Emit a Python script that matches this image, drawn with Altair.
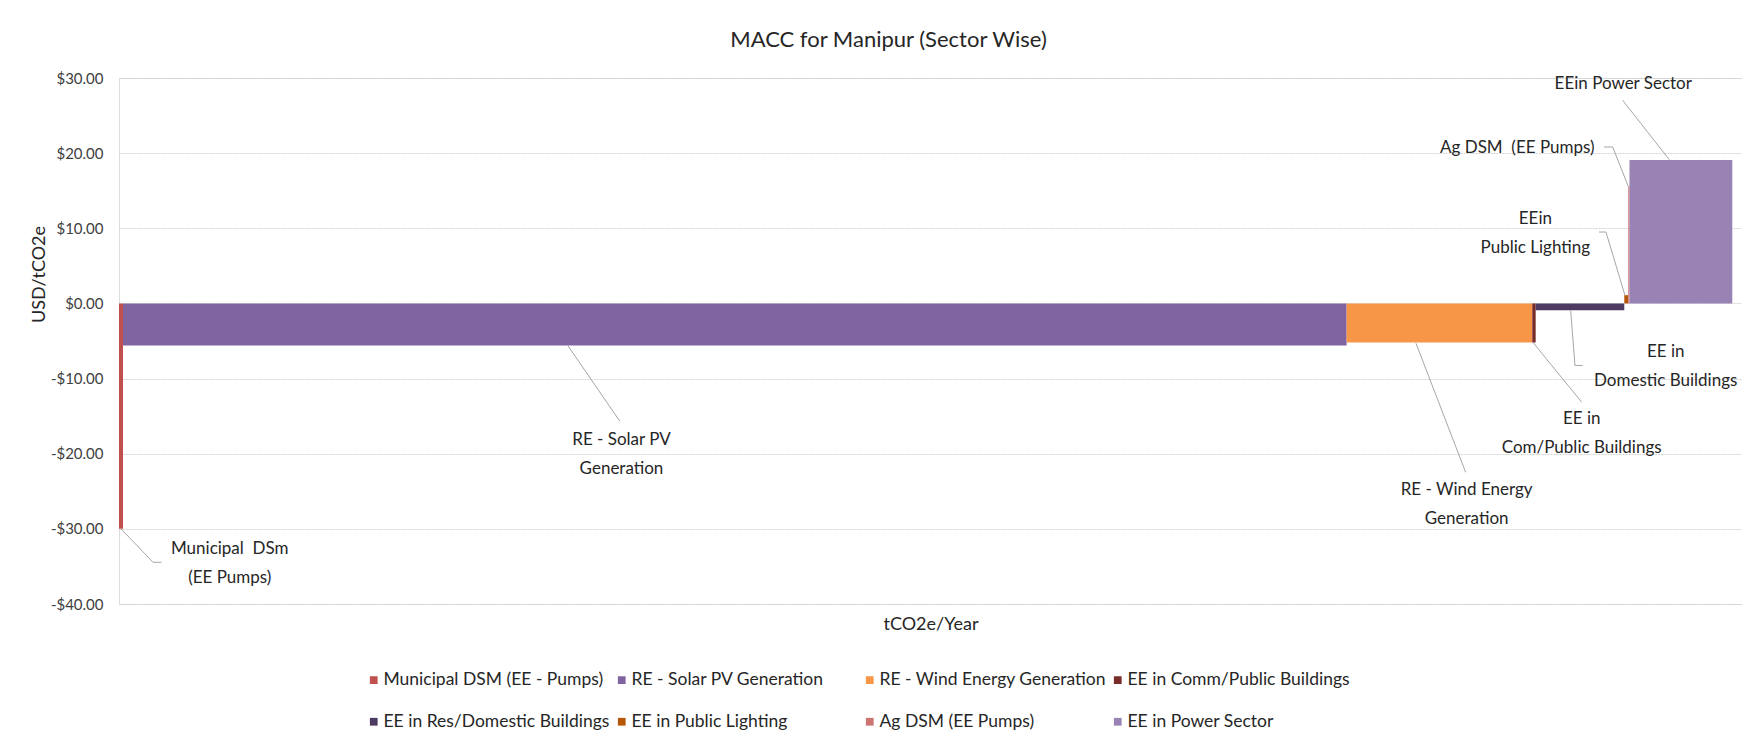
import altair as alt
import pandas as pd

# ---- data ----
series = [
    "Municipal DSM (EE - Pumps)",
    "RE - Solar PV Generation",
    "RE - Wind Energy Generation",
    "EE in Comm/Public Buildings",
    "EE in Res/Domestic Buildings",
    "EE in Public Lighting",
    "Ag DSM (EE Pumps)",
    "EE in Power Sector",
]
abatement = [400, 122340, 18560, 340, 8860, 400, 120, 10280]   # tCO2e/Year (width)
cost = [-30.0, -5.6, -5.2, -5.2, -0.9, 1.1, 15.6, 19.1]        # USD/tCO2e (height)
colors = ["#C0504D", "#8064A2", "#F79646", "#772C2A",
          "#4D3B62", "#B65708", "#CD7371", "#9983B5"]

callout_text = [
    "Municipal \u00a0DSm\n(EE Pumps)",
    "RE - Solar PV\nGeneration",
    "RE - Wind Energy\nGeneration",
    "EE in\nCom/Public Buildings",
    "EE in\nDomestic Buildings",
    "EEin\nPublic Lighting",
    "Ag DSM \u00a0(EE Pumps)",
    "EEin Power Sector",
]
callout_x = [11070, 50240, 134740, 146240, 154640, 141610, 139800, 150400]
callout_y = [-32.67, -18.15, -24.77, -15.36, -6.49, 11.28, 20.68, 29.26]
leader_x = [[200, 3400, 4240], [44900, 50070], [129670, 134640], [141400, 146240],
            [145140, 145570, 146340], [150570, 148670, 147970],
            [150900, 149340, 148470], [155000, 150340]]
leader_y = [[-30.0, -34.45, -34.45], [-5.66, -15.67], [-5.29, -22.47], [-5.23, -13.14],
            [-0.93, -8.26, -8.26], [1.07, 9.5, 9.5], [15.58, 20.82, 20.82], [19.14, 27.03]]

x_max = 162270
y_ticks = [-40, -30, -20, -10, 0, 10, 20, 30]

# ---- tables ----
starts, ends, acc = [], [], 0
for w in abatement:
    starts.append(acc)
    acc += w
    ends.append(acc)
bars = pd.DataFrame({"series": series, "start": starts, "end": ends,
                     "cost": cost, "zero": [0] * len(series)})

labels = pd.DataFrame({"text": callout_text, "x": callout_x, "y": callout_y})

rows = []
for i, (xs, ys) in enumerate(zip(leader_x, leader_y)):
    for j, (a, b) in enumerate(zip(xs, ys)):
        rows.append({"id": i, "seq": j, "x": a, "y": b})
leaders = pd.DataFrame(rows)

FONT = "Lato"
TXT = "#404040"

xscale = alt.Scale(domain=[0, x_max], nice=False, zero=False)
yscale = alt.Scale(domain=[-40, 30], nice=False)

bar_layer = alt.Chart(bars).mark_rect().encode(
    x=alt.X("start:Q", scale=xscale,
            axis=alt.Axis(title="tCO2e/Year", labels=False, ticks=False, domain=False,
                          grid=False, titleFontSize=18, titleFontWeight="normal",
                          titleColor="#262626", titleFont=FONT, titleY=20,
                          titleBaseline="middle")),
    x2="end:Q",
    y=alt.Y("cost:Q", scale=yscale,
            axis=alt.Axis(title="USD/tCO2e", values=y_ticks,
                          labelExpr="(datum.value < 0 ? '-' : '') + '$' + format(abs(datum.value), '.2f')",
                          labelFontSize=15, labelColor=TXT, labelFont=FONT, labelPadding=16,
                          ticks=False, domain=False, grid=True, gridColor="#D4D4D4",
                          gridDash=[2, 1], titleFontSize=18, titleFontWeight="normal",
                          titleColor="#262626", titleFont=FONT, titleX=-80, titleY=196,
                          titleBaseline="middle", titleAlign="center")),
    y2="zero:Q",
    color=alt.Color("series:N", scale=alt.Scale(domain=series, range=colors),
                    legend=alt.Legend(title=None, orient="none", legendX=246, legendY=593,
                                      direction="horizontal",
                                      columns=4, gridAlign="all", columnPadding=2,
                                      rowPadding=23, symbolType="square", symbolSize=60,
                                      symbolStrokeWidth=0, labelFontSize=17.5, labelFont=FONT,
                                      labelColor="#262626", labelLimit=400, padding=0,
                                      labelOffset=1)),
)

leader_layer = alt.Chart(leaders).mark_line(color="#A6A6A6", strokeWidth=1).encode(
    x=alt.X("x:Q", scale=xscale),
    y=alt.Y("y:Q", scale=yscale),
    detail="id:N",
    order="seq:Q",
)

label_layer = alt.Chart(labels).mark_text(
    align="center", baseline="middle", lineBreak="\n", lineHeight=29,
    fontSize=17, font=FONT, color="#262626",
).encode(
    x=alt.X("x:Q", scale=xscale),
    y=alt.Y("y:Q", scale=yscale),
    text="text:N",
)

chart = alt.layer(bar_layer, leader_layer, label_layer).properties(
    width=1623, height=526,
    title=alt.TitleParams("MACC for Manipur (Sector Wise)", fontSize=22, font=FONT,
                          fontWeight="normal", color="#262626", anchor="middle",
                          dx=-42, offset=19),
    autosize=alt.AutoSizeParams(type="none"),
    padding={"left": 111, "top": 70, "right": 0, "bottom": 130},
).configure_view(stroke=None).configure(font=FONT)

chart.save("out.html", embed_options={"renderer": "svg", "actions": False})
